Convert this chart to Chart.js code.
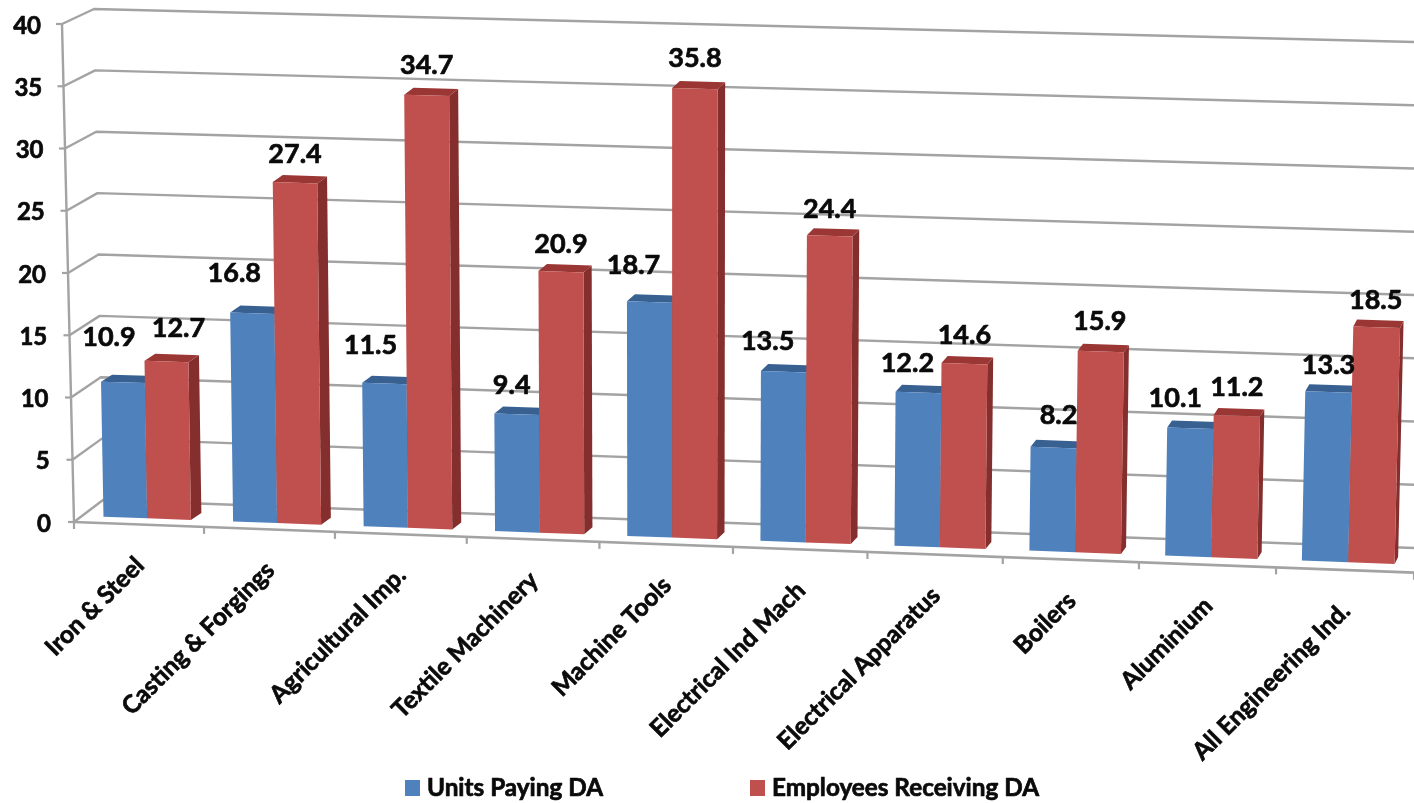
<!DOCTYPE html>
<html>
<head>
<meta charset="utf-8">
<style>
html, body { margin: 0; padding: 0; background: #fff; }
#c { display: block; }
</style>
<script src="https://cdn.jsdelivr.net/npm/chart.js@4/dist/chart.umd.js"></script>
</head>
<body>
<canvas id="c" width="1414" height="803"></canvas>
<script>
const categories = ['Iron & Steel', 'Casting & Forgings', 'Agricultural Imp.', 'Textile Machinery', 'Machine Tools',
    'Electrical Ind Mach', 'Electrical Apparatus', 'Boilers', 'Aluminium', 'All Engineering Ind.']
const unitsPaying = [10.9, 16.8, 11.5, 9.4, 18.7, 13.5, 12.2, 8.2, 10.1, 13.3]
const employeesReceiving = [12.7, 27.4, 34.7, 20.9, 35.8, 24.4, 14.6, 15.9, 11.2, 18.5]

// hand placed value labels, the original has them dragged around
const unitsNudge = [[-14, -45], [-18, -40], [-14, -38], [-5, -29], [-16, -37], [-16, -30], [-11, -29], [5, -32], [-15, -30], [0, -27]]
const employeesNudge = [[12, -33], [0, -28], [0, -30], [0, -27], [0, -30], [0, -27], [0, -28], [-1, -30], [0, -28], [-1, -27]]

const blue = '#4f81bd'
const red = '#c0504d'
const shade = {
    [blue]: { side: '#2f5279', top: '#386192' },
    [red]: { side: '#842f2d', top: '#9a3734' }
}
const gridColor = '#a3a3a3'
const textColor = '#0a0a0a'
const fontName = 'Lato'

let area = null

// squeeze the category axis a little, the picture is in perspective
function bend(x) {
    const t = (x - area.left) / area.width
    return x - 44 * t * (1 - t)
}

function floorY(x) {
    return area.bottom + 0.0378 * (x - area.left)
}

// front of the bars: scale pixels -> picture
function project(x, y) {
    const t = (x - area.left) / area.width
    const X0 = bend(x) + 8.5 - 5.5 * t
    const base = 516.7 + 0.0366 * (X0 - 103)
    const h = (area.bottom - y) * (0.995 + 0.03 * t)
    return { x: X0 + h * (X0 - 672) * 3.2e-5, y: base - h }
}

function depth(p) {
    return { x: p.x + 10.5 - (p.x - 190) * 0.0058, y: p.y - 7 }
}

function quad(ctx, pts, color) {
    ctx.beginPath()
    pts.forEach((p, i) => i ? ctx.lineTo(p.x, p.y) : ctx.moveTo(p.x, p.y))
    ctx.closePath()
    ctx.fillStyle = color
    ctx.fill()
}

Chart.elements.BarElement.prototype.draw = function (ctx) {
    const color = this.options.backgroundColor
    const l = this.x - this.width / 2
    const r = this.x + this.width / 2
    const tl = project(l, this.y), tr = project(r, this.y)
    const bl = project(l, this.base), br = project(r, this.base)
    quad(ctx, [tr, depth(tr), depth(br), br], shade[color].side)
    quad(ctx, [tl, depth(tl), depth(tr), tr], shade[color].top)
    quad(ctx, [tl, tr, br, bl], color)
}

function line(ctx, x1, y1, x2, y2, width) {
    ctx.beginPath()
    ctx.moveTo(x1, y1)
    ctx.lineTo(x2, y2)
    ctx.lineWidth = width
    ctx.strokeStyle = gridColor
    ctx.stroke()
}

// bold text a bit heavier, closer to the blurry Calibri of the original
function heavyText(ctx, text, x, y) {
    ctx.lineWidth = 0.7
    ctx.strokeStyle = textColor
    ctx.strokeText(text, x, y)
    ctx.fillText(text, x, y)
}

const walls = {
    id: 'walls',
    beforeDatasetsDraw(chart) {
        const ctx = chart.ctx, y = chart.scales.y, x = chart.scales.x
        area = chart.chartArea
        ctx.save()
        ctx.lineJoin = 'round'
        const step = x.getPixelForTick(1) - x.getPixelForTick(0)
        y.ticks.forEach(tick => {
            const f = tick.value / y.max
            const py = y.getPixelForValue(tick.value)
            const ax = area.left - 12 * f
            // wall, back wall, then the little tick
            const bx = 103 - 9 * f, by = py - 22 + 7 * f
            const ry = py + 26 - 8 * f
            ctx.beginPath()
            ctx.moveTo(ax, py)
            ctx.lineTo(bx, by)
            ctx.lineTo(area.right, ry)
            ctx.lineWidth = 2.4
            ctx.strokeStyle = gridColor
            ctx.stroke()
            line(ctx, ax - 6, py, ax, py, 2.2)
            ctx.font = 'bold 24px ' + fontName
            ctx.fillStyle = textColor
            ctx.textAlign = 'right'
            ctx.textBaseline = 'middle'
            heavyText(ctx, tick.value, ax - 23 + 2 * f, py + 2)
        })
        line(ctx, area.left - 12, y.top, area.left, y.bottom, 2.4)
        line(ctx, area.left, area.bottom, area.right, floorY(area.right), 2.6)
        for (let i = 0; i <= categories.length; i++) {
            const tx = bend(x.left + i * step)
            line(ctx, tx, floorY(tx), tx, floorY(tx) + 7, 2.2)
        }

        // blue first so the red bar covers its side face
        chart.getDatasetMeta(0).data.forEach(bar => bar.draw(ctx))
        chart.getDatasetMeta(1).data.forEach(bar => bar.draw(ctx))

        ctx.fillStyle = textColor

        // value labels
        ctx.font = 'bold 27px ' + fontName
        ctx.textAlign = 'center'
        ctx.textBaseline = 'middle'
        chart.data.datasets.forEach((ds, d) => {
            const nudge = d === 0 ? unitsNudge : employeesNudge
            chart.getDatasetMeta(d).data.forEach((bar, i) => {
                const p = project(bar.x, bar.y)
                heavyText(ctx, ds.data[i].toFixed(1), p.x + nudge[i][0], p.y + nudge[i][1])
            })
        })

        // category labels, they follow the sloping floor
        ctx.font = 'bold 24.5px ' + fontName
        ctx.textAlign = 'right'
        ctx.textBaseline = 'middle'
        x.getLabels().forEach((label, i) => {
            const tx = bend(x.getPixelForTick(i))
            ctx.save()
            ctx.translate(tx + 1, floorY(tx) + 37)
            ctx.rotate(-Math.PI / 4)
            heavyText(ctx, label, 0, 0)
            ctx.restore()
        })

        // legend
        ctx.textAlign = 'left'
        ctx.font = 'bold 24.3px ' + fontName
        const legendX = [405, 750]
        chart.data.datasets.forEach((ds, d) => {
            ctx.fillStyle = ds.backgroundColor
            ctx.fillRect(legendX[d], 780, 15, 16)
            ctx.fillStyle = textColor
            heavyText(ctx, ds.label, legendX[d] + 22, 788)
        })
        ctx.restore()
        return false
    }
}

new Chart(document.getElementById('c'), {
    type: 'bar',
    data: {
        labels: categories,
        datasets: [
            { label: 'Units Paying DA', data: unitsPaying, backgroundColor: blue },
            { label: 'Employees Receiving DA', data: employeesReceiving, backgroundColor: red }
        ]
    },
    options: {
        responsive: false,
        animation: false,
        layout: { padding: { left: 74, right: 0, top: 24, bottom: 281 } },
        categoryPercentage: 0.675,
        barPercentage: 1,
        scales: {
            x: { display: false },
            y: { display: false, min: 0, max: 40, ticks: { stepSize: 5 } }
        },
        plugins: { legend: { display: false }, tooltip: { enabled: false } }
    },
    plugins: [walls]
})
</script>
</body>
</html>
